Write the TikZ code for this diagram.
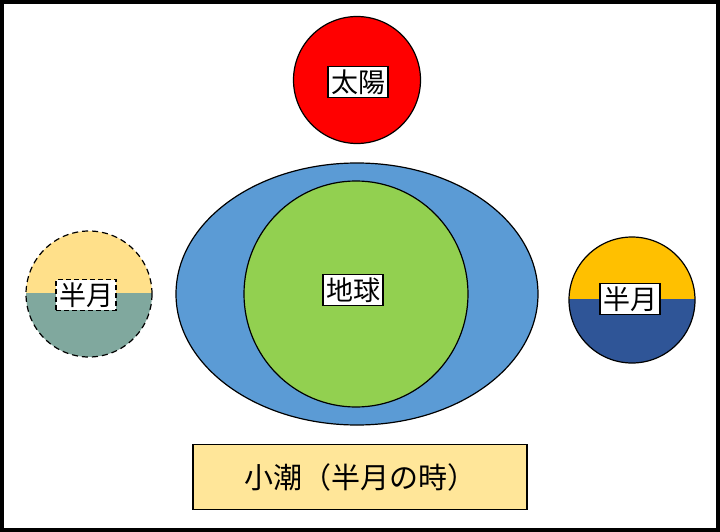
\documentclass[tikz,border=0pt]{standalone}
\usepackage{fontspec}
\setmainfont{Noto Sans CJK JP}
\definecolor{ocean}{RGB}{91,155,213}
\definecolor{land}{RGB}{146,208,80}
\definecolor{lmtop}{RGB}{255,224,138}
\definecolor{lmbot}{RGB}{128,168,158}
\definecolor{rmtop}{RGB}{255,192,0}
\definecolor{rmbot}{RGB}{47,85,151}
\definecolor{capfill}{RGB}{255,230,153}
\begin{document}
\begin{tikzpicture}[x=1pt,y=-1pt,
  lbl/.style={draw=black,fill=white,line width=1.2pt,inner sep=3pt,font=\fontsize{27}{30}\selectfont},
  orb/.style={draw=black,line width=1.2pt}]
\useasboundingbox (0,0) rectangle (720,532);
\draw[line width=4pt,fill=white] (2,2) rectangle (718,530);
% sun
\draw[orb,fill=red] (357,80) circle (63.5);
\node[lbl] (sun) at (358,82) {太陽};
% ocean and earth
\draw[orb,fill=ocean] (357,294) ellipse (181 and 131);
\draw[orb,fill=land] (356,294) ellipse (112 and 113);
\node[lbl] (earth) at (353,290) {地球};
% left moon
\begin{scope}
\clip (89,294) circle (63);
\fill[lmtop] (20,220) rectangle (160,293);
\fill[lmbot] (20,293) rectangle (160,370);
\end{scope}
\draw[orb,dash pattern=on 6pt off 4pt] (89,294) circle (63);
\node[lbl,dash pattern=on 5pt off 3pt] (lmoon) at (86,295) {半月};
% right moon
\begin{scope}
\clip (632,300) circle (63);
\fill[rmtop] (560,230) rectangle (700,299);
\fill[rmbot] (560,299) rectangle (700,370);
\end{scope}
\draw[orb] (632,300) circle (63);
\node[lbl] (rmoon) at (630,299) {半月};
% caption
\node[draw=black,line width=1.2pt,fill=capfill,minimum width=334pt,minimum height=65pt,font=\fontsize{29}{32}\selectfont] (cap) at (360,477) {小潮（半月の時）};
\end{tikzpicture}
\end{document}
